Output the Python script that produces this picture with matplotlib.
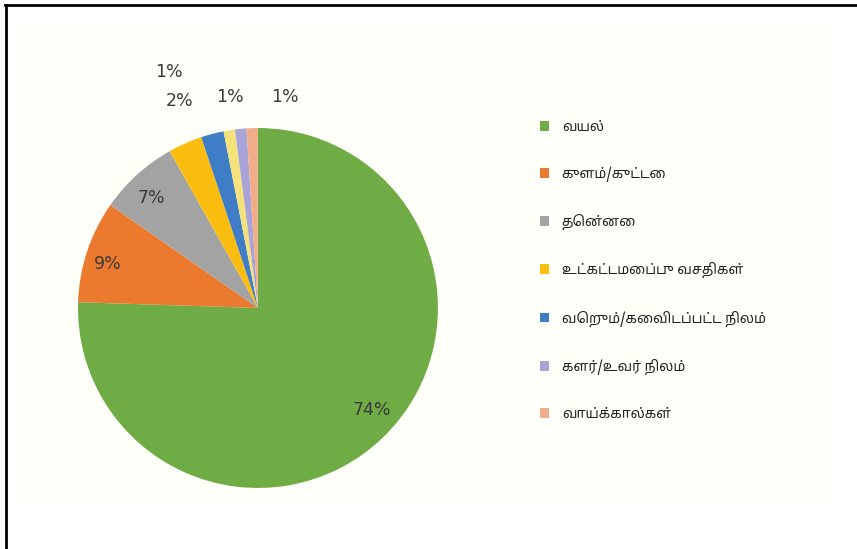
import matplotlib
matplotlib.use("Agg")
import matplotlib.pyplot as plt
from matplotlib.patches import Patch, Rectangle
from matplotlib.lines import Line2D
import numpy as np

# land use categories (Tamil), the light yellow slice has no legend entry
categories = ["வயல்", "குளம்/குட்டை", "தென்னை", "உட்கட்டமைப்பு வசதிகள்",
              "வெறும்/கைவிடப்பட்ட நிலம்", "", "களர்/உவர் நிலம்", "வாய்க்கால்கள்"]
values = [74, 9, 7, 3, 2, 1, 1, 1]
pct_labels = ["74%", "9%", "7%", "2%", "1%", "", "1%", "1%"]
colors = ["#6fac45", "#ec7a2e", "#a3a3a3", "#fbbd10", "#3f7dc7",
          "#f6e27a", "#a8a4d8", "#f3ac8a"]

# label radius and angle nudge (degrees) per slice
label_r = [0.85, 0.87, 0.85, 1.23, 1.40, 1.2, 1.18, 1.18]
label_dang = [4, 2, 2, -3, 6, 0, 2, -9]

plt.rcParams['font.family'] = ['Noto Sans Tamil', 'Lohit Tamil', 'FreeSans', 'DejaVu Sans']

fig = plt.figure(figsize=(8.57, 5.49), dpi=100)
fig.patch.set_facecolor("white")
fig.patches.append(Rectangle((0.02, 0.08), 0.95, 0.87, transform=fig.transFigure,
                             facecolor="#fffffa", edgecolor="none", zorder=-5))
# frame lines at top and left
fig.lines.append(Line2D([0.006, 1.0], [0.99, 0.99], transform=fig.transFigure,
                        color="black", lw=2))
fig.lines.append(Line2D([0.007, 0.007], [0.0, 0.99], transform=fig.transFigure,
                        color="black", lw=2))

ax = fig.add_axes([0.091, 0.111, 0.42, 0.656])
wedges, _ = ax.pie(values, colors=colors, startangle=90, counterclock=False,
                   radius=1.0, wedgeprops=dict(linewidth=0))
ax.set_xlim(-1, 1)
ax.set_ylim(-1, 1)
ax.set_aspect("equal")
ax.axis("off")

for w, lab, r, da in zip(wedges, pct_labels, label_r, label_dang):
    if not lab:
        continue
    ang = np.deg2rad((w.theta1 + w.theta2) / 2 + da)
    ax.text(r * np.cos(ang), r * np.sin(ang), lab, ha="center", va="center",
            fontsize=12.5, color="#3a3a3a", clip_on=False, family="DejaVu Sans")

handles = [Patch(facecolor=c, edgecolor="none", label=n)
           for c, n in zip(colors, categories) if n]
fig.legend(handles=handles, loc="upper left", bbox_to_anchor=(0.615, 0.805),
           frameon=False, fontsize=10, handlelength=0.7, handleheight=0.7,
           handletextpad=0.9, labelspacing=2.3, labelcolor="#222222")

fig.savefig("out.png", dpi=100, facecolor=fig.get_facecolor())
